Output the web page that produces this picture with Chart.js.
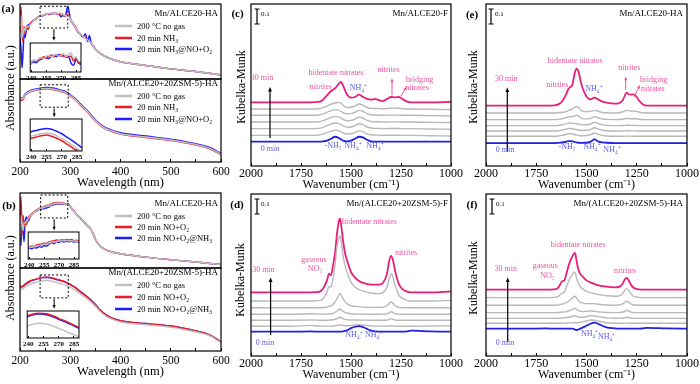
<!DOCTYPE html>
<html>
<head>
<meta charset="utf-8">
<script src="https://cdn.jsdelivr.net/npm/chart.js@4.4.1/dist/chart.umd.min.js"></script>
<style>
  body { margin: 0; width: 700px; height: 384px; position: relative; overflow: hidden; background: #fff; }
  canvas { position: absolute; }
  .txt { position: absolute; white-space: nowrap; color: #000; font-family: 'Liberation Serif', 'Times New Roman', serif; transform: translate(-50%, -50%); line-height: 1; }
  .ytitle { font-size: 12px; transform: translate(-50%, -50%) rotate(-90deg); }
  .letter { font-size: 11px; font-weight: bold; }
</style>
</head>
<body>
<script>
// ---------- UV-vis (panels a, b) ----------
const wlNoisy = [200, 202, 204, 206, 208, 210, 213, 216, 220, 225, 230, 235,
  240, 242.5, 245, 247.5, 250, 252.5, 255, 257.5, 260, 262.5, 265, 267.5, 270, 272.5, 275, 277.5, 280, 282.5, 285, 287.5, 290,
  295, 300, 305, 310, 315, 320, 325, 330, 335, 338, 342, 346, 350,
  360, 370, 380, 400, 450, 500, 550, 600];
const wlSmooth = [200, 205, 210, 220, 230, 240, 245, 250, 255, 260, 265, 270, 275, 280, 285, 290,
  300, 310, 320, 330, 340, 350, 360, 370, 380, 400, 420, 450, 500, 550, 575, 600];

const aTopGray = [0.70,0.85,0.55,0.60,0.68,0.64,0.69,0.70,0.72,0.76,0.80,0.815,
  0.84,0.855,0.85,0.86,0.865,0.86,0.87,0.875,0.868,0.873,0.88,0.87,0.875,0.882,0.87,0.878,0.885,0.86,0.868,0.85,0.845,
  0.85,0.80,0.745,0.69,0.64,0.60,0.57,0.54,0.52,0.50,0.48,0.43,0.40,
  0.34,0.30,0.27,0.23,0.18,0.135,0.10,0.055];
const aTopRed = [0.62,0.97,0.60,0.50,0.70,0.62,0.70,0.66,0.74,0.77,0.80,0.82,
  0.845,0.85,0.848,0.856,0.86,0.868,0.862,0.872,0.875,0.868,0.876,0.872,0.878,0.87,0.874,0.865,0.872,0.85,0.862,0.845,0.84,
  0.86,0.80,0.75,0.70,0.64,0.60,0.57,0.55,0.52,0.50,0.48,0.43,0.40,
  0.34,0.30,0.27,0.23,0.18,0.135,0.10,0.055];
const aTopBlue = [0.55,0.40,0.15,0.35,0.60,0.55,0.68,0.72,0.73,0.77,0.79,0.82,
  0.838,0.845,0.842,0.852,0.857,0.862,0.865,0.86,0.87,0.875,0.868,0.878,0.872,0.876,0.866,0.87,0.84,0.83,0.856,0.84,0.835,
  0.97,0.81,0.74,0.69,0.63,0.60,0.56,0.60,0.50,0.58,0.47,0.44,0.40,
  0.34,0.30,0.27,0.23,0.18,0.135,0.10,0.055];

const aBotGray = [0.77,0.758,0.806,0.85,0.867,0.879,0.882,0.885,0.887,0.885,0.88,0.874,0.866,0.858,0.849,0.839,
  0.799,0.754,0.689,0.634,0.564,0.499,0.444,0.404,0.379,0.341,0.322,0.301,0.264,0.21,0.17,0.095];
const aBotRed = [0.75,0.745,0.80,0.845,0.862,0.874,0.877,0.88,0.882,0.879,0.874,0.868,0.86,0.852,0.843,0.834,
  0.794,0.749,0.684,0.628,0.558,0.494,0.439,0.399,0.374,0.336,0.317,0.296,0.259,0.205,0.166,0.09];
const aBotBlue = [0.78,0.765,0.815,0.86,0.878,0.89,0.893,0.896,0.898,0.896,0.891,0.885,0.877,0.869,0.86,0.85,
  0.81,0.765,0.70,0.645,0.575,0.51,0.455,0.415,0.39,0.352,0.333,0.312,0.275,0.22,0.18,0.105];

const bTopGray = [0.40,0.70,0.60,0.50,0.60,0.60,0.62,0.65,0.69,0.72,0.75,0.775,
  0.795,0.80,0.80,0.81,0.815,0.82,0.83,0.825,0.842,0.85,0.85,0.855,0.86,0.865,0.86,0.866,0.862,0.865,0.857,0.86,0.85,
  0.85,0.82,0.777,0.737,0.697,0.667,0.627,0.595,0.557,0.547,0.50,0.45,0.38,
  0.29,0.245,0.22,0.19,0.145,0.11,0.08,0.045];
const bTopRed = [0.50,0.95,0.45,0.70,0.55,0.62,0.58,0.66,0.70,0.73,0.76,0.78,
  0.80,0.81,0.805,0.82,0.825,0.83,0.838,0.835,0.85,0.858,0.862,0.87,0.866,0.872,0.868,0.875,0.87,0.874,0.862,0.868,0.858,
  0.85,0.82,0.78,0.74,0.70,0.67,0.63,0.60,0.56,0.55,0.50,0.45,0.38,
  0.29,0.245,0.22,0.19,0.145,0.11,0.08,0.045];
const bTopBlue = [0.90,0.30,0.70,0.55,0.35,0.60,0.68,0.62,0.68,0.72,0.75,0.77,
  0.79,0.782,0.795,0.79,0.805,0.798,0.815,0.81,0.83,0.845,0.835,0.852,0.848,0.86,0.85,0.858,0.852,0.86,0.85,0.855,0.845,
  0.86,0.82,0.775,0.735,0.695,0.665,0.625,0.59,0.555,0.545,0.50,0.45,0.38,
  0.29,0.245,0.22,0.19,0.145,0.11,0.08,0.045];

const bBotGray = [0.75,0.745,0.77,0.805,0.825,0.841,0.847,0.85,0.849,0.845,0.838,0.83,0.822,0.813,0.805,0.796,
  0.768,0.735,0.688,0.645,0.597,0.54,0.472,0.424,0.39,0.35,0.331,0.317,0.287,0.228,0.189,0.1];
const bBotRed = [0.77,0.78,0.805,0.843,0.863,0.881,0.887,0.89,0.889,0.886,0.879,0.87,0.862,0.853,0.843,0.833,
  0.802,0.766,0.716,0.671,0.62,0.56,0.49,0.44,0.405,0.365,0.345,0.33,0.30,0.24,0.20,0.11];
const bBotBlue = [0.78,0.775,0.80,0.84,0.86,0.878,0.884,0.887,0.886,0.882,0.875,0.866,0.858,0.849,0.84,0.83,
  0.80,0.765,0.715,0.67,0.62,0.56,0.49,0.44,0.405,0.365,0.345,0.33,0.30,0.24,0.20,0.11];

const aNames = ['200 °C no gas', '20 min NH₃', '20 min NH₃@NO+O₂'];
const bNames = ['200 °C no gas', '20 min NO+O₂', '20 min NO+O₂@NH₃'];

// ---------- DRIFTS (panels c, d, e, f) ----------
const wnC = [2000,1800,1700,1660,1640,1620,1600,1580,1560,1550,1540,1520,1500,1480,1460,1440,1420,1400,1380,1360,1340,1320,1300,1280,1260,1240,1220,1200,1100,1000];
const pinkC = [0.424,0.424,0.424,0.427,0.442,0.471,0.5,0.518,0.549,0.56,0.538,0.476,0.456,0.46,0.476,0.46,0.447,0.442,0.447,0.438,0.433,0.447,0.46,0.458,0.46,0.444,0.429,0.424,0.424,0.427];
const grayC1 = [0.38,0.38,0.38,0.382,0.389,0.4,0.412,0.42,0.424,0.418,0.405,0.39,0.392,0.4,0.413,0.405,0.39,0.384,0.383,0.383,0.382,0.384,0.386,0.386,0.385,0.382,0.38,0.38,0.378,0.376];
const grayC2 = [0.338,0.338,0.338,0.34,0.347,0.358,0.369,0.376,0.371,0.365,0.356,0.347,0.349,0.358,0.371,0.365,0.349,0.342,0.34,0.34,0.338,0.339,0.339,0.339,0.339,0.338,0.338,0.338,0.336,0.334];
const grayC3 = [0.293,0.293,0.293,0.295,0.302,0.313,0.324,0.331,0.326,0.32,0.311,0.302,0.304,0.313,0.326,0.32,0.304,0.297,0.295,0.295,0.293,0.294,0.294,0.294,0.294,0.293,0.293,0.293,0.291,0.289];
const grayC4 = [0.249,0.249,0.249,0.251,0.258,0.269,0.28,0.287,0.282,0.276,0.267,0.258,0.26,0.269,0.282,0.276,0.26,0.253,0.251,0.251,0.249,0.25,0.25,0.25,0.25,0.249,0.249,0.249,0.247,0.245];
const grayC5 = [0.204,0.204,0.204,0.206,0.212,0.222,0.232,0.238,0.234,0.229,0.221,0.213,0.215,0.223,0.234,0.229,0.214,0.208,0.206,0.206,0.204,0.205,0.205,0.205,0.205,0.204,0.204,0.204,0.202,0.2];
const blueC = [0.162,0.162,0.162,0.162,0.164,0.169,0.182,0.195,0.186,0.178,0.169,0.164,0.169,0.182,0.195,0.191,0.175,0.164,0.162,0.162,0.162,0.162,0.162,0.163,0.162,0.162,0.162,0.162,0.162,0.162];

const wnE = [2000,1800,1700,1660,1640,1620,1600,1590,1580,1570,1560,1550,1540,1530,1520,1500,1480,1460,1440,1420,1400,1360,1340,1320,1300,1290,1280,1270,1260,1250,1240,1220,1200,1100,1000];
const pinkE = [0.402,0.402,0.402,0.404,0.411,0.433,0.482,0.513,0.527,0.542,0.611,0.649,0.631,0.571,0.522,0.464,0.444,0.456,0.442,0.429,0.422,0.416,0.418,0.438,0.489,0.478,0.476,0.478,0.473,0.46,0.438,0.411,0.402,0.402,0.402];
const grayE1 = [0.353,0.353,0.353,0.353,0.355,0.358,0.362,0.371,0.375,0.38,0.391,0.397,0.391,0.375,0.366,0.362,0.364,0.371,0.364,0.357,0.355,0.353,0.355,0.36,0.371,0.369,0.366,0.366,0.366,0.364,0.36,0.355,0.353,0.353,0.353];
const grayE2 = [0.309,0.309,0.309,0.309,0.311,0.315,0.322,0.327,0.329,0.329,0.333,0.338,0.333,0.322,0.316,0.314,0.318,0.329,0.32,0.313,0.311,0.309,0.31,0.312,0.318,0.316,0.315,0.315,0.315,0.314,0.312,0.31,0.309,0.309,0.309];
const grayE3 = [0.269,0.269,0.269,0.269,0.271,0.275,0.282,0.286,0.287,0.285,0.283,0.282,0.279,0.276,0.274,0.275,0.28,0.291,0.282,0.274,0.271,0.269,0.269,0.27,0.272,0.272,0.271,0.271,0.271,0.27,0.27,0.269,0.269,0.269,0.269];
const grayE4 = [0.233,0.233,0.233,0.233,0.235,0.239,0.246,0.25,0.25,0.248,0.245,0.243,0.24,0.238,0.237,0.238,0.243,0.255,0.246,0.238,0.235,0.233,0.233,0.233,0.235,0.235,0.234,0.234,0.234,0.234,0.233,0.233,0.233,0.233,0.233];
const grayE5 = [0.198,0.198,0.198,0.198,0.2,0.204,0.211,0.215,0.215,0.213,0.21,0.207,0.204,0.202,0.201,0.203,0.208,0.22,0.211,0.203,0.2,0.198,0.198,0.198,0.199,0.199,0.199,0.199,0.198,0.198,0.198,0.198,0.198,0.198,0.198];
const blueE = [0.153,0.153,0.153,0.153,0.154,0.157,0.162,0.166,0.166,0.164,0.16,0.157,0.155,0.154,0.154,0.155,0.162,0.177,0.162,0.157,0.155,0.153,0.153,0.153,0.153,0.153,0.153,0.153,0.153,0.153,0.153,0.153,0.153,0.153,0.153];

const wnD = [2000,1800,1700,1660,1640,1620,1610,1600,1590,1580,1570,1560,1555,1550,1540,1530,1520,1500,1480,1460,1440,1400,1360,1340,1320,1310,1300,1290,1280,1270,1260,1240,1220,1200,1100,1000];
const pinkD = [0.424,0.424,0.424,0.427,0.449,0.504,0.549,0.538,0.604,0.682,0.816,0.904,0.916,0.882,0.771,0.687,0.638,0.56,0.522,0.5,0.487,0.476,0.476,0.487,0.549,0.627,0.667,0.638,0.571,0.516,0.478,0.442,0.429,0.424,0.424,0.431];
const grayD1 = [0.367,0.367,0.367,0.369,0.382,0.427,0.464,0.46,0.516,0.604,0.727,0.793,0.798,0.771,0.671,0.604,0.56,0.493,0.46,0.442,0.433,0.42,0.416,0.422,0.46,0.509,0.549,0.527,0.471,0.438,0.404,0.382,0.371,0.367,0.367,0.371];
const grayD2 = [0.322,0.322,0.322,0.322,0.323,0.326,0.333,0.335,0.344,0.36,0.382,0.411,0.415,0.406,0.384,0.362,0.349,0.335,0.331,0.329,0.326,0.324,0.324,0.326,0.335,0.349,0.36,0.351,0.335,0.329,0.324,0.322,0.322,0.322,0.322,0.322];
const grayD3 = [0.278,0.278,0.282,0.279,0.279,0.28,0.281,0.282,0.283,0.291,0.3,0.311,0.313,0.309,0.298,0.291,0.287,0.282,0.28,0.279,0.279,0.278,0.278,0.279,0.282,0.287,0.296,0.291,0.282,0.279,0.278,0.278,0.278,0.278,0.278,0.278];
const grayD4 = [0.238,0.238,0.24,0.238,0.238,0.238,0.239,0.24,0.241,0.245,0.25,0.256,0.258,0.255,0.249,0.244,0.242,0.24,0.24,0.24,0.239,0.238,0.238,0.238,0.24,0.243,0.249,0.245,0.24,0.238,0.238,0.238,0.238,0.238,0.238,0.238];
const grayD5 = [0.198,0.198,0.204,0.2,0.199,0.199,0.199,0.199,0.2,0.202,0.204,0.206,0.207,0.206,0.204,0.202,0.202,0.203,0.206,0.209,0.206,0.201,0.199,0.199,0.199,0.2,0.202,0.2,0.199,0.198,0.198,0.198,0.198,0.198,0.2,0.202];
const blueD = [0.162,0.162,0.164,0.162,0.162,0.162,0.162,0.162,0.162,0.162,0.162,0.162,0.162,0.162,0.164,0.167,0.171,0.186,0.195,0.2,0.193,0.169,0.162,0.162,0.162,0.162,0.162,0.162,0.162,0.162,0.162,0.162,0.164,0.169,0.164,0.162];

const pinkF = [0.442,0.442,0.442,0.444,0.456,0.5,0.504,0.549,0.598,0.638,0.664,0.687,0.678,0.638,0.576,0.544,0.531,0.504,0.491,0.48,0.471,0.462,0.458,0.46,0.482,0.509,0.52,0.504,0.478,0.46,0.451,0.444,0.442,0.442,0.442,0.442];
const grayF1 = [0.389,0.389,0.389,0.391,0.398,0.42,0.427,0.46,0.493,0.522,0.544,0.56,0.553,0.522,0.482,0.46,0.449,0.431,0.422,0.416,0.409,0.402,0.398,0.4,0.416,0.438,0.449,0.438,0.416,0.402,0.396,0.391,0.389,0.389,0.389,0.389];
const grayF2 = [0.338,0.338,0.338,0.338,0.34,0.347,0.349,0.356,0.365,0.376,0.387,0.398,0.396,0.387,0.369,0.358,0.354,0.349,0.349,0.349,0.345,0.34,0.338,0.34,0.347,0.358,0.365,0.358,0.347,0.342,0.34,0.338,0.338,0.338,0.338,0.338];
const grayF3 = [0.289,0.289,0.289,0.289,0.29,0.293,0.294,0.296,0.3,0.305,0.311,0.318,0.316,0.311,0.302,0.298,0.296,0.298,0.3,0.298,0.294,0.29,0.289,0.289,0.293,0.298,0.305,0.3,0.293,0.29,0.289,0.289,0.289,0.289,0.289,0.289];
const grayF4 = [0.251,0.251,0.251,0.251,0.252,0.253,0.254,0.256,0.258,0.262,0.265,0.269,0.267,0.264,0.26,0.258,0.258,0.262,0.269,0.267,0.262,0.254,0.252,0.251,0.253,0.255,0.258,0.256,0.253,0.252,0.251,0.251,0.251,0.251,0.251,0.251];
const grayF5 = [0.218,0.218,0.218,0.218,0.218,0.219,0.219,0.22,0.22,0.221,0.221,0.222,0.222,0.222,0.223,0.225,0.227,0.233,0.24,0.238,0.232,0.222,0.219,0.218,0.218,0.219,0.219,0.219,0.218,0.218,0.218,0.218,0.218,0.218,0.218,0.218];
const blueF = [0.182,0.182,0.184,0.182,0.182,0.182,0.182,0.182,0.182,0.182,0.182,0.178,0.175,0.173,0.178,0.182,0.189,0.202,0.215,0.222,0.213,0.191,0.184,0.182,0.182,0.182,0.182,0.182,0.182,0.182,0.182,0.182,0.184,0.187,0.184,0.182];

// ---------- drawing ----------
const SERIF = "'Liberation Serif', 'Times New Roman', serif";
const RED = '#ee1c24', BLUE = '#1c1cff', GRAY = '#c0c0c0';
const PINK = '#ea1e79', KGRAY = '#b8b8b8', KBLUE = '#2020e6';
const TPINK = '#f0509e', TBLUE = '#5a5ae6';

function drawArrow(ctx, x1, y1, x2, y2, color, w, head) {
  const ang = Math.atan2(y2 - y1, x2 - x1);
  ctx.strokeStyle = color; ctx.fillStyle = color; ctx.lineWidth = w;
  ctx.beginPath(); ctx.moveTo(x1, y1);
  ctx.lineTo(x2 - Math.cos(ang) * head * 0.8, y2 - Math.sin(ang) * head * 0.8); ctx.stroke();
  ctx.beginPath(); ctx.moveTo(x2, y2);
  ctx.lineTo(x2 - head * Math.cos(ang - 0.4), y2 - head * Math.sin(ang - 0.4));
  ctx.lineTo(x2 - head * Math.cos(ang + 0.4), y2 - head * Math.sin(ang + 0.4));
  ctx.closePath(); ctx.fill();
}

const decoPlugin = {
  id: 'deco',
  beforeDraw(chart, args, o) {
    if (!o.white) return;
    const a = chart.chartArea, ctx = chart.ctx;
    ctx.save(); ctx.fillStyle = '#fff';
    ctx.fillRect(a.left, a.top, a.right - a.left, a.bottom - a.top + (o.whiteBelow || 0));
    ctx.restore();
  },
  afterDraw(chart, args, o) {
    const { ctx, chartArea: a, scales } = chart;
    const px = v => scales.x.getPixelForValue(v), py = v => scales.y.getPixelForValue(v);
    ctx.save();
    ctx.strokeStyle = '#000'; ctx.lineWidth = o.frame || 1.2;
    ctx.strokeRect(a.left, a.top, a.right - a.left, a.bottom - a.top);
    (o.boxes || []).forEach(b => {
      ctx.setLineDash([2, 2]); ctx.lineWidth = 1; ctx.strokeStyle = '#000';
      ctx.strokeRect(px(b.x1), py(b.y2), px(b.x2) - px(b.x1), py(b.y1) - py(b.y2));
      ctx.setLineDash([]);
    });
    (o.arrows || []).forEach(r => drawArrow(ctx, px(r.x1), py(r.y1), px(r.x2), py(r.y2), r.c || '#000', r.w || 1, r.head || 4));
    if (o.bar) {
      const x = a.left + o.bar.left, y1 = a.top + o.bar.top;
      const y2 = y1 + (py(0) - py(0.1));
      ctx.strokeStyle = '#000'; ctx.lineWidth = 1.2;
      ctx.beginPath();
      ctx.moveTo(x, y1); ctx.lineTo(x, y2);
      ctx.moveTo(x - 2.5, y1); ctx.lineTo(x + 2.5, y1);
      ctx.moveTo(x - 2.5, y2); ctx.lineTo(x + 2.5, y2);
      ctx.stroke();
      ctx.font = '7px ' + SERIF; ctx.fillStyle = '#000'; ctx.textAlign = 'left'; ctx.textBaseline = 'middle';
      ctx.fillText('0.1', x + 4, y1 + 5);
    }
    (o.texts || []).forEach(t => {
      ctx.font = (t.bold ? 'bold ' : '') + (t.size || 8) + 'px ' + SERIF;
      ctx.fillStyle = t.c || '#000';
      ctx.textAlign = t.align || 'center'; ctx.textBaseline = 'middle';
      const X = t.right !== undefined ? a.right - t.right : px(t.x);
      const Y = t.top !== undefined ? a.top + t.top : py(t.y);
      ctx.fillText(t.t, X, Y);
    });
    if (o.legend) {
      const L = o.legend;
      ctx.font = '9px ' + SERIF; ctx.fillStyle = '#000'; ctx.textAlign = 'right'; ctx.textBaseline = 'middle';
      ctx.fillText(L.title, a.right - 3, a.top + L.titleY);
      ctx.font = '8.5px ' + SERIF; ctx.textAlign = 'left';
      chart.data.datasets.forEach((ds, i) => {
        const y = a.top + L.rows[i];
        ctx.strokeStyle = ds.borderColor; ctx.lineWidth = 2.5;
        ctx.beginPath(); ctx.moveTo(a.right - 106, y); ctx.lineTo(a.right - 89, y); ctx.stroke();
        ctx.fillStyle = '#000';
        ctx.fillText(ds.label, a.right - 84, y + 0.5);
      });
    }
    ctx.restore();
  }
};

function makeCanvas(left, top, w, h) {
  const c = document.createElement('canvas');
  c.width = w; c.height = h;
  c.style.left = left + 'px'; c.style.top = top + 'px';
  c.style.width = w + 'px'; c.style.height = h + 'px';
  document.body.appendChild(c);
  return c;
}

function series(label, xs, ys, color, width) {
  return {
    label: label, data: xs.map((x, i) => ({ x: x, y: ys[i] })),
    borderColor: color, borderWidth: width, pointRadius: 0, fill: false,
    cubicInterpolationMode: 'monotone'
  };
}

function plot(box, ax, ay, datasets, deco, pad) {
  pad = pad || { left: 16, right: 16, top: 2, bottom: 2 };
  const xh = ax.show ? ax.height : 0;
  const w = box.r - box.l + pad.left + pad.right;
  const h = box.b - box.t + pad.top + pad.bottom + xh;
  const cv = makeCanvas(box.l - pad.left, box.t - pad.top, w, h);
  return new Chart(cv, {
    type: 'line',
    data: { datasets: datasets },
    options: {
      responsive: false, animation: false, events: [], devicePixelRatio: 1,
      layout: { padding: { left: pad.left, right: pad.right, top: pad.top, bottom: pad.bottom } },
      plugins: { legend: { display: false }, tooltip: { enabled: false }, deco: deco },
      scales: {
        x: {
          type: 'linear', min: ax.min, max: ax.max, reverse: !!ax.reverse, display: !!ax.show,
          border: { display: false },
          grid: { drawOnChartArea: false, color: '#000', tickColor: '#000', tickLength: ax.tick || -3, lineWidth: 1 },
          ticks: {
            stepSize: ax.step, autoSkip: false, maxRotation: 0, minRotation: 0, includeBounds: false,
            padding: ax.pad, color: '#000',
            font: { family: SERIF, size: ax.size, weight: ax.weight || 'normal' },
            callback: v => (ax.every && v % ax.every !== 0) ? '' : String(v)
          },
          title: ax.title
            ? { display: true, text: ax.title, color: '#000', font: { family: SERIF, size: ax.titleSize }, padding: 0 }
            : { display: false },
          afterFit: s => { s.height = xh; }
        },
        y: { display: false, min: ay.min, max: ay.max }
      }
    },
    plugins: [decoPlugin]
  });
}

function uvSets(names, xs, g, r, b) {
  return [series(names[0], xs, g, GRAY, 1.5), series(names[1], xs, r, RED, 1.5), series(names[2], xs, b, BLUE, 1.5)];
}

const uvTopX = { min: 200, max: 600, show: false };
const uvBotX = { min: 200, max: 600, show: true, height: 28, step: 50, every: 100, pad: 5.6, size: 11.5,
  title: 'Wavelength (nm)', titleSize: 12.5 };
const insetX = { min: 239, max: 290, show: true, height: 10, step: 15, pad: 3.8, size: 7, weight: 'bold', tick: -2 };
const insetPad = { left: 8, right: 8, top: 1, bottom: 0 };

// panel (a)
plot({ l: 20, t: 4, r: 221, b: 79 }, uvTopX, { min: 0, max: 1 },
  uvSets(aNames, wlNoisy, aTopGray, aTopRed, aTopBlue),
  { legend: { title: 'Mn/ALCE20-HA', titleY: 10, rows: [22, 34, 45] },
    boxes: [{ x1: 240, x2: 295, y1: 0.68, y2: 0.97 }],
    arrows: [{ x1: 267.5, y1: 0.665, x2: 267.5, y2: 0.51, head: 4 }] });
plot({ l: 20, t: 79, r: 221, b: 162 }, uvBotX, { min: 0, max: 1 },
  uvSets(aNames, wlSmooth, aBotGray, aBotRed, aBotBlue),
  { legend: { title: 'Mn/(ALCE20+20ZSM-5)-HA', titleY: 5, rows: [17, 28, 40] },
    boxes: [{ x1: 240, x2: 296, y1: 0.66, y2: 0.93 }],
    arrows: [{ x1: 268, y1: 0.645, x2: 268, y2: 0.54, head: 4 }] });

// panel (b)
plot({ l: 20, t: 193, r: 221, b: 268 }, uvTopX, { min: 0, max: 1 },
  uvSets(bNames, wlNoisy, bTopGray, bTopRed, bTopBlue),
  { legend: { title: 'Mn/ALCE20-HA', titleY: 11, rows: [23, 34, 45] },
    boxes: [{ x1: 241, x2: 295, y1: 0.667, y2: 0.973 }],
    arrows: [{ x1: 268, y1: 0.65, x2: 268, y2: 0.5, head: 4 }] });
plot({ l: 20, t: 268, r: 221, b: 351 }, uvBotX, { min: 0, max: 1 },
  uvSets(bNames, wlSmooth, bBotGray, bBotRed, bBotBlue),
  { legend: { title: 'Mn/(ALCE20+20ZSM-5)-HA', titleY: 5, rows: [17, 29, 41] },
    boxes: [{ x1: 240, x2: 296, y1: 0.64, y2: 0.916 }],
    arrows: [{ x1: 268, y1: 0.63, x2: 268, y2: 0.51, head: 4 }] });

// insets
plot({ l: 30, t: 43, r: 81, b: 72 }, insetX, { min: 0.80, max: 0.93 },
  uvSets(aNames, wlNoisy, aTopGray, aTopRed, aTopBlue), { white: true, frame: 1 }, insetPad);
plot({ l: 30, t: 119, r: 82, b: 151 }, insetX, { min: 0.843, max: 0.921 },
  uvSets(aNames, wlSmooth, aBotGray, aBotRed, aBotBlue), { white: true, frame: 1 }, insetPad);
plot({ l: 28, t: 232, r: 79, b: 259 }, insetX, { min: 0.68, max: 0.95 },
  uvSets(bNames, wlNoisy, bTopGray, bTopRed, bTopBlue), { white: true, frame: 1 }, insetPad);
plot({ l: 27, t: 311, r: 79, b: 338 }, insetX, { min: 0.792, max: 0.899 },
  uvSets(bNames, wlSmooth, bBotGray, bBotRed, bBotBlue), { white: true, frame: 1 }, insetPad);

// DRIFTS panels
const irX = { min: 1000, max: 2000, reverse: true, show: true, height: 26, step: 125, every: 250, pad: 3.8, size: 12,
  title: 'Wavenumber (cm⁻¹)', titleSize: 12 };
const irY = { min: 0, max: 1.08 };

function irSets(xs, pink, grays, blue) {
  const out = grays.map((g, i) => series('t' + (i + 1), xs, g, KGRAY, 1.4));
  out.push(series('0 min', xs, blue, KBLUE, 1.8));
  out.push(series('30 min', xs, pink, PINK, 1.8));
  return out;
}

plot({ l: 251, t: 4, r: 451, b: 166 }, irX, irY,
  irSets(wnC, pinkC, [grayC1, grayC2, grayC3, grayC4, grayC5], blueC),
  { bar: { left: 6, top: 5 },
    texts: [
      { t: 'Mn/ALCE20-F', right: 3, top: 10, size: 9, align: 'right' },
      { t: '30 min', x: 1945, y: 0.587, c: TPINK },
      { t: '0 min', x: 1905, y: 0.111, c: TBLUE },
      { t: 'bidentate nitrates', x: 1575, y: 0.622, c: TPINK },
      { t: 'nitrites', x: 1651, y: 0.524, c: TPINK },
      { t: 'NH₄⁺', x: 1463, y: 0.518, c: TBLUE },
      { t: 'nitrites', x: 1312, y: 0.64, c: TPINK },
      { t: 'bridging', x: 1157, y: 0.573, c: TPINK },
      { t: 'nitrates', x: 1170, y: 0.518, c: TPINK },
      { t: '-NH₂', x: 1590, y: 0.135, c: TBLUE },
      { t: 'NH₄⁺', x: 1490, y: 0.135, c: TBLUE },
      { t: 'NH₄⁺', x: 1380, y: 0.135, c: TBLUE }
    ],
    arrows: [
      { x1: 1905, y1: 0.187, x2: 1905, y2: 0.527, w: 1.2, head: 5 },
      { x1: 1295, y1: 0.473, x2: 1295, y2: 0.585, c: TPINK, head: 4 },
      { x1: 1250, y1: 0.467, x2: 1222, y2: 0.53, c: TPINK, head: 4 }
    ] });

plot({ l: 486, t: 4, r: 687, b: 166 }, irX, irY,
  irSets(wnE, pinkE, [grayE1, grayE2, grayE3, grayE4, grayE5], blueE),
  { bar: { left: 5, top: 5 },
    texts: [
      { t: 'Mn/ALCE20-HA', right: 4, top: 10, size: 9, align: 'right' },
      { t: '30 min', x: 1899, y: 0.58, c: TPINK },
      { t: '0 min', x: 1905, y: 0.107, c: TBLUE },
      { t: 'bidentate nitrates', x: 1556, y: 0.70, c: TPINK },
      { t: 'nitrites', x: 1645, y: 0.54, c: TPINK },
      { t: 'NH₄⁺', x: 1463, y: 0.513, c: TBLUE },
      { t: 'nitrites', x: 1287, y: 0.651, c: TPINK },
      { t: 'bridging', x: 1166, y: 0.573, c: TPINK },
      { t: 'nitrates', x: 1170, y: 0.511, c: TPINK },
      { t: '-NH₂', x: 1597, y: 0.129, c: TBLUE },
      { t: 'NH₄⁺', x: 1473, y: 0.129, c: TBLUE },
      { t: 'NH₄⁺', x: 1373, y: 0.109, c: TBLUE }
    ],
    arrows: [
      { x1: 1894, y1: 0.095, x2: 1894, y2: 0.524, w: 1.2, head: 5 },
      { x1: 1305, y1: 0.507, x2: 1305, y2: 0.596, c: TPINK, head: 4 },
      { x1: 1264, y1: 0.462, x2: 1234, y2: 0.54, c: TPINK, head: 4 }
    ] });

plot({ l: 251, t: 194, r: 451, b: 356 }, irX, irY,
  irSets(wnD, pinkD, [grayD1, grayD2, grayD3, grayD4, grayD5], blueD),
  { bar: { left: 6, top: 5 },
    texts: [
      { t: 'Mn/(ALCE20+20ZSM-5)-F', right: 3, top: 10, size: 9, align: 'right' },
      { t: 'bidentate nitrates', x: 1408, y: 0.896, c: TPINK },
      { t: 'gaseous', x: 1685, y: 0.64, c: TPINK },
      { t: 'NO₂', x: 1680, y: 0.578, c: TPINK },
      { t: 'nitrites', x: 1225, y: 0.684, c: TPINK },
      { t: '30 min', x: 1938, y: 0.573, c: TPINK },
      { t: '0 min', x: 1930, y: 0.089, c: TBLUE },
      { t: 'NH₄⁺', x: 1485, y: 0.14, c: TBLUE },
      { t: 'NH₄⁺', x: 1387, y: 0.14, c: TBLUE }
    ],
    arrows: [{ x1: 1902, y1: 0.14, x2: 1902, y2: 0.524, w: 1.2, head: 5 }] });

plot({ l: 486, t: 194, r: 687, b: 356 }, irX, irY,
  irSets(wnD, pinkF, [grayF1, grayF2, grayF3, grayF4, grayF5], blueF),
  { bar: { left: 6, top: 5 },
    texts: [
      { t: 'Mn/(ALCE20+20ZSM-5)-HA', right: 4, top: 10, size: 9, align: 'right' },
      { t: 'bidentate nitrates', x: 1541, y: 0.74, c: TPINK },
      { t: 'gaseous', x: 1705, y: 0.60, c: TPINK },
      { t: 'NO₂', x: 1695, y: 0.533, c: TPINK },
      { t: 'nitrites', x: 1308, y: 0.567, c: TPINK },
      { t: '30 min', x: 1902, y: 0.58, c: TPINK },
      { t: '0 min', x: 1905, y: 0.084, c: TBLUE },
      { t: 'NH₄⁺', x: 1484, y: 0.147, c: TBLUE },
      { t: 'NH₄⁺', x: 1400, y: 0.125, c: TBLUE }
    ],
    arrows: [{ x1: 1892, y1: 0.095, x2: 1892, y2: 0.524, w: 1.2, head: 5 }] });

// page texts
function pageText(text, x, y, cls) {
  const d = document.createElement('div');
  d.className = 'txt ' + cls;
  d.style.left = x + 'px'; d.style.top = y + 'px';
  d.textContent = text;
  document.body.appendChild(d);
}
pageText('(a)', 8, 8, 'letter');
pageText('(b)', 9, 205, 'letter');
pageText('(c)', 237.5, 13, 'letter');
pageText('(e)', 472, 14, 'letter');
pageText('(d)', 237, 204, 'letter');
pageText('(f)', 472, 204, 'letter');
pageText('Absorbance (a.u.)', 10, 88, 'ytitle');
pageText('Absorbance (a.u.)', 10, 278, 'ytitle');
pageText('Kubelka-Munk', 241, 87, 'ytitle');
pageText('Kubelka-Munk', 473, 87, 'ytitle');
pageText('Kubelka-Munk', 240, 280, 'ytitle');
pageText('Kubelka-Munk', 473, 278, 'ytitle');
</script>
</body>
</html>
